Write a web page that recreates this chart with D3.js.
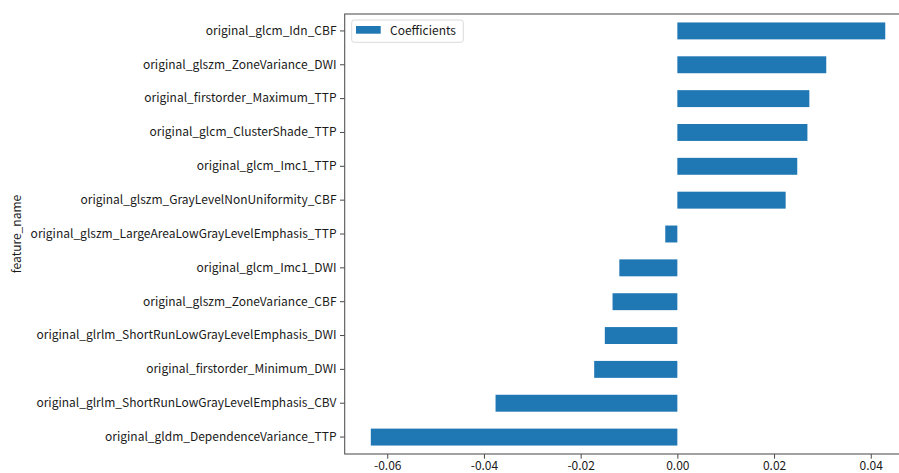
<!DOCTYPE html>
<html>
<head>
<meta charset="utf-8">
<script src="https://cdn.jsdelivr.net/npm/d3@7/dist/d3.min.js"></script>
<style>
  html, body { margin: 0; padding: 0; background: #fff; }
  svg { display: block; }
  text { font-family: "Noto Sans CJK SC", "Open Sans", sans-serif; fill: #1a1a1a; }
</style>
</head>
<body>
<svg id="chart" width="899" height="473"></svg>
<script>
// Feature names, top to bottom
const features = [
  "original_glcm_Idn_CBF",
  "original_glszm_ZoneVariance_DWI",
  "original_firstorder_Maximum_TTP",
  "original_glcm_ClusterShade_TTP",
  "original_glcm_Imc1_TTP",
  "original_glszm_GrayLevelNonUniformity_CBF",
  "original_glszm_LargeAreaLowGrayLevelEmphasis_TTP",
  "original_glcm_Imc1_DWI",
  "original_glszm_ZoneVariance_CBF",
  "original_glrlm_ShortRunLowGrayLevelEmphasis_DWI",
  "original_firstorder_Minimum_DWI",
  "original_glrlm_ShortRunLowGrayLevelEmphasis_CBV",
  "original_gldm_DependenceVariance_TTP"
];

// Coefficient per feature
const coefficients = [
  0.0430, 0.0308, 0.0273, 0.0269, 0.0248, 0.0224,
  -0.0025, -0.0120, -0.0134, -0.0150, -0.0172, -0.0376, -0.0634
];

const xTicks = [-0.06, -0.04, -0.02, 0.00, 0.02, 0.04];
const seriesName = "Coefficients";

const svg = d3.select("#chart");
const plot = { left: 344.7, top: 14, bottom: 454 };
const pxPerUnit = 4835;
const xMin = -0.0688, xMax = 0.0486;
plot.right = plot.left + (xMax - xMin) * pxPerUnit;

const x = d3.scaleLinear().domain([xMin, xMax]).range([plot.left, plot.right]);
const y = d3.scaleBand().domain(features).range([plot.top, plot.bottom])
  .paddingInner(0.5).paddingOuter(0.25);

const color = "#1f77b4";

// Bars
svg.append("g").selectAll("rect")
  .data(features.map((f, i) => ({ f, v: coefficients[i] })))
  .join("rect")
  .attr("x", d => x(Math.min(0, d.v)))
  .attr("y", d => y(d.f))
  .attr("width", d => Math.abs(x(d.v) - x(0)))
  .attr("height", y.bandwidth())
  .attr("fill", color);

// Axes
const fontSize = 12;
const xAxis = svg.append("g")
  .attr("transform", `translate(0,${plot.bottom})`)
  .call(d3.axisBottom(x).tickValues(xTicks).tickSizeOuter(0).tickSize(4.7).tickPadding(2.8));
xAxis.selectAll("text").style("font-size", fontSize + "px")
  .text(d => d3.format(".2f")(d).replace("−", "-"));

const yAxis = svg.append("g")
  .attr("transform", `translate(${plot.left},0)`)
  .call(d3.axisLeft(y).tickSizeOuter(0).tickSize(4.7).tickPadding(3.5));
yAxis.selectAll("text").style("font-size", fontSize + "px");

[xAxis, yAxis].forEach(g => {
  g.select(".domain").remove();
  g.selectAll(".tick line").attr("stroke", "#333").attr("stroke-width", 0.9);
});

// Frame
svg.append("rect")
  .attr("x", plot.left).attr("y", plot.top)
  .attr("width", plot.right - plot.left).attr("height", plot.bottom - plot.top)
  .attr("fill", "none").attr("stroke", "#555").attr("stroke-width", 1.1);

// Y axis title
svg.append("text")
  .attr("transform", `translate(21,${(plot.top + plot.bottom) / 2}) rotate(-90)`)
  .attr("text-anchor", "middle")
  .style("font-size", fontSize + "px")
  .text("feature_name");

// Legend
const lg = svg.append("g").attr("transform", "translate(351.7,20)");
lg.append("rect").attr("width", 111.6).attr("height", 22.3).attr("rx", 2.5)
  .attr("fill", "#fff").attr("fill-opacity", 0.8).attr("stroke", "#d6d6d6").attr("stroke-width", 0.9);
lg.append("rect").attr("x", 4.3).attr("y", 6).attr("width", 24.7).attr("height", 7.7).attr("fill", color);
lg.append("text").attr("x", 38.3).attr("y", 11.2).attr("dy", "0.35em")
  .style("font-size", fontSize + "px").text(seriesName);
</script>
</body>
</html>
